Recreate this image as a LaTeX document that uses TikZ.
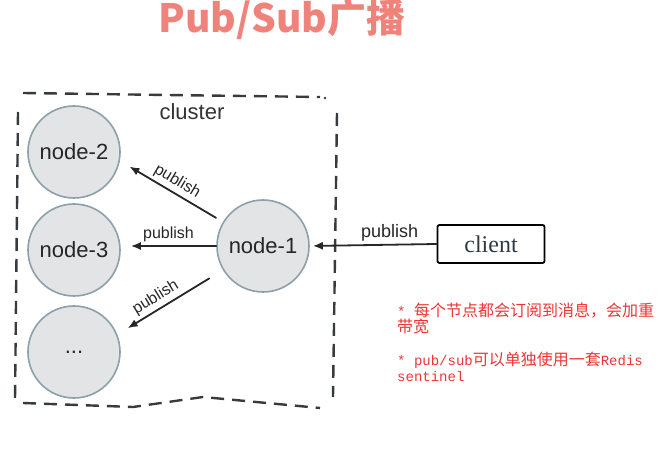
\documentclass[tikz,border=0pt]{standalone}
\usepackage{fontspec}
\usetikzlibrary{arrows.meta}
\usetikzlibrary{positioning}
\newfontfamily\labelfont{Liberation Sans}
\newfontfamily\clientfont{Liberation Serif}
\newfontfamily\cjkfont{Noto Sans CJK SC}
\newfontfamily\notemono{Liberation Mono}
\definecolor{titlered}{RGB}{240,130,124}
\definecolor{notered}{RGB}{236,52,52}
\definecolor{nodefill}{RGB}{226,228,229}
\definecolor{nodeline}{RGB}{141,160,170}
\definecolor{dashgray}{RGB}{55,58,62}
\definecolor{clientink}{RGB}{45,58,68}

\newcommand{\half}[1]{{\notemono\fontsize{14}{15.5}\selectfont #1}}

\begin{document}
\begin{tikzpicture}[
			x=1pt, y=1pt,
			line join=round, line cap=round,
			every node/.style={font=\labelfont},
			member/.style={circle, draw=nodeline, fill=nodefill, line width=1.6pt,
					minimum size=92pt, inner sep=0pt,
					font=\labelfont\fontsize{22}{24}\selectfont, text=black!85},
			pub/.style={-{Latex[length=10pt,width=8pt]}, line width=1.8pt, black!85},
			publabel/.style={font=\labelfont\fontsize{16}{18}\selectfont, inner sep=3pt, text=black!85},
			border/.style={dashgray, line width=2.4pt, dash pattern=on 13pt off 8pt, line cap=butt},
			note/.style={anchor=north west, align=left, inner sep=0pt, text=notered,
					font=\cjkfont\fontsize{16}{15.5}\selectfont}
		]
		\useasboundingbox (0,0) rectangle (662,453);

		% Title
		\node[anchor=base, inner sep=0pt, text=titlered, font=\cjkfont\bfseries\fontsize{39}{42}\selectfont] (title) at (282,420) {Pub/Sub广播};

		% Cluster border (hand drawn)
		\draw[border] (23,360) -- (167,358) -- (320,356);
		\fill[dashgray] (325,355) circle (1.3pt);
		\draw[border] (337,340) -- (333,56);
		\draw[border] (18,341) -- (15,53);
		\draw[border] (23,50) -- (133,46) -- (203,56) -- (320,45);
		\node[font=\labelfont\fontsize{22}{24}\selectfont, text=black!80] (cluster) at (192,341) {cluster};

		% Nodes
		\node[member] (n1) at (263,207) {node-1};
		\node[member] (n2) at (74,301) {node-2};
		\node[member] (n3) at (74,203) {node-3};
		\node[member] (n4) at (74,101) {...};

		% Client
		\node[draw, line width=1.8pt, rounded corners=2pt, minimum width=107pt, minimum height=38pt,
			font=\clientfont\fontsize{24}{26}\selectfont, text=clientink] (client) at (491,209) {client};

		% Publish arrows
		\draw[pub, shorten >=3pt] (client.west) -- node[publabel, above, pos=0.37, font=\labelfont\fontsize{18}{20}\selectfont] {publish} (n1.east);
		\draw[pub, shorten <=8pt, shorten >=11pt] (n1.149) -- node[publabel, above, sloped] {publish} (n2.-11);
		\draw[pub, shorten >=10pt] (n1.west) -- node[publabel, above] {publish} (n1.west -| n3.east);
		\draw[pub, shorten <=16pt, shorten >=12pt] (n1.211) -- node[publabel, above, sloped, pos=0.58] {publish} (n4.22);

		% Notes
		\node[note] (note1) at (397,150) {\half{* }每个节点都会订阅到消息，会加重\\带宽};
		\node[note] (note2) at (397,101) {\half{* pub/sub}可以单独使用一套\half{Redis}\\\half{sentinel}};
	\end{tikzpicture}
\end{document}
